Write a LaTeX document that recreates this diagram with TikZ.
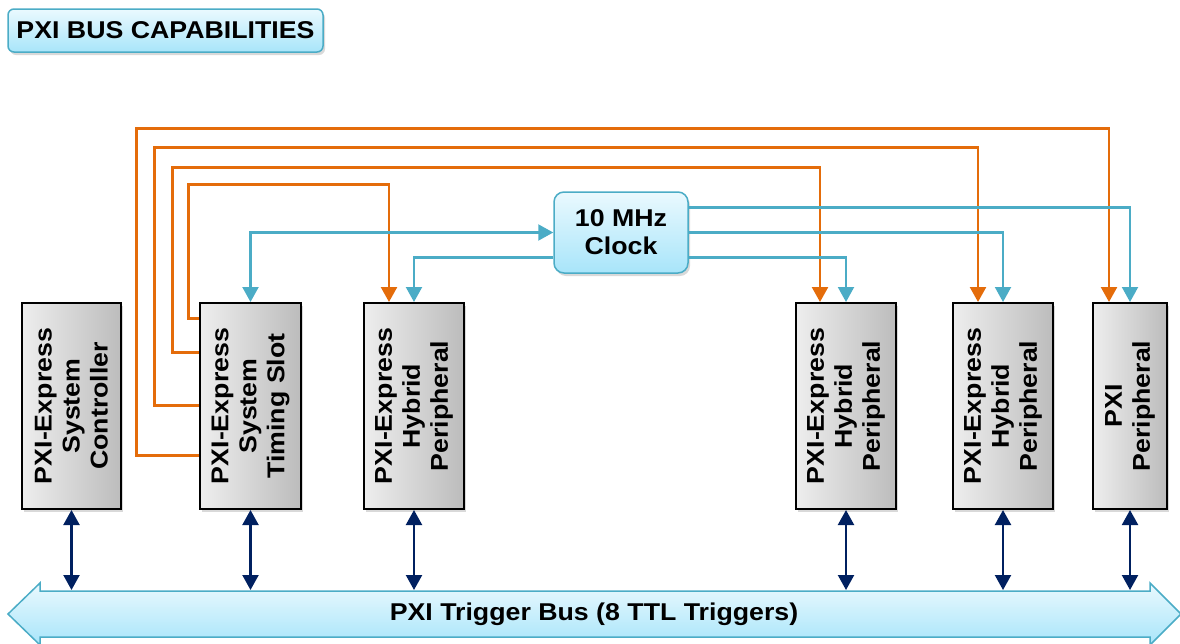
\documentclass[tikz,border=0pt]{standalone}
\usepackage{fontspec}
\setmainfont{Liberation Sans}[FakeStretch=1.1]
\usetikzlibrary{arrows.meta,shadows,calc}
\definecolor{org}{RGB}{228,108,10}
\definecolor{blu}{RGB}{75,172,198}
\definecolor{nav}{RGB}{0,32,96}
\definecolor{cyTop}{RGB}{234,249,254}
\definecolor{cyBot}{RGB}{168,229,250}
\definecolor{gyL}{RGB}{238,238,238}
\definecolor{gyR}{RGB}{188,188,188}
\begin{document}
\begin{tikzpicture}[x=1pt,y=-1pt,
  bigfont/.style={font=\fontsize{24.3}{28}\selectfont\bfseries},
  cyanbox/.style={draw=blu, line width=1.5pt, top color=cyTop, bottom color=cyBot, inner sep=0pt,
     drop shadow={shadow xshift=2pt, shadow yshift=-3pt, opacity=0.3}},
  slot/.style={draw=black, line width=2pt, left color=gyL, right color=gyR, minimum height=206pt, inner sep=0pt,
     drop shadow={shadow xshift=2pt, shadow yshift=-3pt, opacity=0.3}},
  slottext/.style={bigfont, rotate=90, align=center, inner sep=0pt},
  tri/.tip={Triangle[width=16pt,length=15pt]},
  orgline/.style={draw=org, line width=2.4pt, -tri},
  bluline/.style={draw=blu, line width=2.1pt, -tri},
  navline/.style={draw=nav, line width=2.2pt, tri-tri}
]
\useasboundingbox (0,0) rectangle (1180,643);

% title
\node[cyanbox, rounded corners=6pt, minimum width=315pt, minimum height=43pt, bigfont] (title) at (165.5,30.5) {PXI BUS CAPABILITIES};

% clock
\node[cyanbox, rounded corners=10pt, minimum width=134pt, minimum height=81pt, bigfont, align=center] (clk) at (621,232.5) {10 MHz\\Clock};

% slots
\node[slot, minimum width=99pt] (b1) at (71.5,406) {};
\node[slot, minimum width=101pt] (b2) at (250.5,406) {};
\node[slot, minimum width=100pt] (b3) at (414,406) {};
\node[slot, minimum width=100pt] (b4) at (846,406) {};
\node[slot, minimum width=100pt] (b5) at (1003,406) {};
\node[slot, minimum width=74pt] (b6) at (1130,406) {};
\node[slottext] (t1) at (b1) {PXI-Express\\System\\Controller};
\node[slottext] (t2) at (b2) {PXI-Express\\System\\Timing Slot};
\node[slottext] (t3) at (b3) {PXI-Express\\Hybrid\\Peripheral};
\node[slottext] (t4) at (b4) {PXI-Express\\Hybrid\\Peripheral};
\node[slottext] (t5) at (b5) {PXI-Express\\Hybrid\\Peripheral};
\node[slottext] (t6) at (b6) {PXI\\Peripheral};

% trigger bus
\path[draw=blu, line width=1.5pt, top color=cyTop, bottom color=cyBot]
  (8,614) -- (40,583) -- (40,591) -- (1150,591) -- (1150,583) -- (1181,614)
  -- (1150,645) -- (1150,637) -- (40,637) -- (40,645) -- cycle;
\node[bigfont] (bus) at (594,614) {PXI Trigger Bus (8 TTL Triggers)};
\coordinate (bustop) at (594,590);

% orange star triggers
\draw[orgline] ([yshift=-16.5pt]b2.north west) -| (188.5,184.5) -| ([xshift=-25pt]b3.north);
\draw[orgline] ([yshift=-50.5pt]b2.north west) -| (172.5,167.5) -| ([xshift=-26pt]b4.north);
\draw[orgline] ([yshift=-103.5pt]b2.north west) -| (154.5,147.5) -| ([xshift=-25pt]b5.north);
\draw[orgline] ([yshift=-153.5pt]b2.north west) -| (136.5,128.5) -| ([xshift=-21pt]b6.north);

% blue clock lines
\draw[bluline, tri-tri] (b2.north) |- (clk.west);
\draw[bluline] ([yshift=-25pt]clk.west) -| (b3.north);
\draw[bluline] ([yshift=25pt]clk.east) -| (b6.north);
\draw[bluline] (clk.east) -| (b5.north);
\draw[bluline] ([yshift=-25pt]clk.east) -| (b4.north);

% navy bus links
\foreach \b in {b1,b2,b3,b4,b5,b6}
  \draw[navline] (\b.south) -- (\b.south |- bustop);
\end{tikzpicture}
\end{document}
